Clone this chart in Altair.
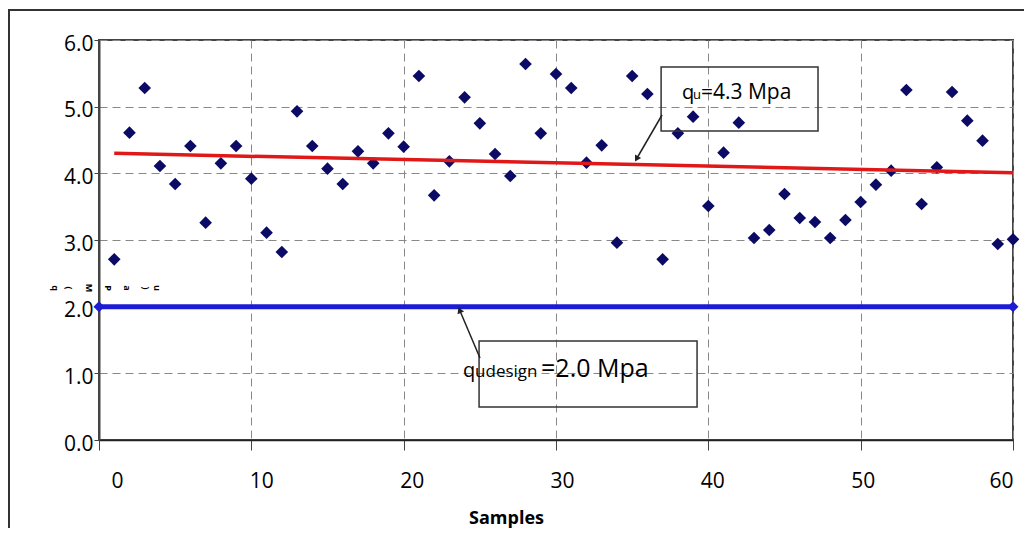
import altair as alt
import pandas as pd

# ---- data ----
samples = list(range(1, 61))
qu_values = [2.71, 4.61, 5.28, 4.11, 3.84, 4.41, 3.26, 4.15, 4.41, 3.92,
             3.11, 2.82, 4.93, 4.41, 4.07, 3.84, 4.33, 4.15, 4.60, 4.40,
             5.46, 3.67, 4.18, 5.14, 4.75, 4.29, 3.96, 5.64, 4.60, 5.49,
             5.28, 4.16, 4.42, 2.96, 5.46, 5.19, 2.71, 4.60, 4.85, 3.51,
             4.31, 4.76, 3.03, 3.15, 3.69, 3.33, 3.27, 3.03, 3.30, 3.57,
             3.83, 4.04, 5.25, 3.54, 4.09, 5.22, 4.79, 4.49, 2.94, 3.01]
trend_x = [1, 60]
trend_y = [4.30, 4.01]
design_x = [0, 60]
design_y = [2.0, 2.0]
x_ticks = [0, 10, 20, 30, 40, 50, 60]
y_ticks = [0, 1, 2, 3, 4, 5, 6]
x_title = "Samples"
y_title_chars = ["q", "(", "M", "P", "a", ")", "u"]

FONT = "Open Sans"
W, H = 914, 400

xs = alt.Scale(domain=[0, 60], nice=False, zero=False)
ys = alt.Scale(domain=[0, 6], nice=False)

pts = pd.DataFrame({"x": samples, "y": qu_values})
trend = pd.DataFrame({"x": trend_x, "y": trend_y})
design = pd.DataFrame({"x": design_x, "y": design_y})

x_axis = alt.Axis(values=x_ticks, title=x_title, labelFont=FONT, labelFontSize=21,
                  labelColor="black", labelOffset=alt.ExprRef(expr="12 - datum.value / 5"),
                  labelPadding=20, tickSize=10,
                  tickColor="#444", domainColor="#222", domainWidth=1.5,
                  grid=True, gridDash=[8, 5], gridColor="#888", gridWidth=1,
                  titleFont=FONT, titleFontSize=18, titleFontWeight="bold",
                  titleColor="black", titleX=407, titleY=83,
                  titleAlign="center", titleBaseline="alphabetic")
y_axis = alt.Axis(values=y_ticks, format=".1f", title="", labelFont=FONT,
                  labelFontSize=21, labelColor="black", labelOffset=4,
                  labelPadding=1, tickSize=5, tickColor="#444",
                  domainColor="#444", domainWidth=2,
                  grid=True, gridDash=[8, 5], gridColor="#888", gridWidth=1)


def X(field="x:Q"):
    return alt.X(field, scale=xs, axis=x_axis)


def Y(field="y:Q"):
    return alt.Y(field, scale=ys, axis=y_axis)


one = pd.DataFrame({"a": [0]})

frame = alt.Chart(one).mark_rect(fillOpacity=0, stroke="#333", strokeWidth=2).encode(
    x=alt.value(-90), x2=alt.value(1100), y=alt.value(-30), y2=alt.value(700))

scatter = alt.Chart(pts).mark_point(shape="diamond", filled=True, size=160,
                                    color="#0b0b66", opacity=1).encode(x=X(), y=Y())

design_line = alt.Chart(design).mark_line(color="#1c1cd2", strokeWidth=5).encode(
    x=X(), y=Y())
design_pts = alt.Chart(design).mark_point(shape="diamond", filled=True, size=120,
                                          color="#1c1cd2", opacity=1).encode(x=X(), y=Y())

trend_line = alt.Chart(trend).mark_line(color="#e01818", strokeWidth=3.5).encode(
    x=X(), y=Y())

# annotation boxes (data coordinates)
boxes = pd.DataFrame({"x": [36.9, 24.95], "x2": [47.2, 39.26],
                      "y": [5.595, 1.485], "y2": [4.635, 0.495]})
box_marks = alt.Chart(boxes).mark_rect(fillOpacity=0, stroke="#333", strokeWidth=1.5).encode(
    x=X(), x2="x2:Q", y=Y(), y2="y2:Q")

arrows = pd.DataFrame({"x": [36.96, 25.01], "y": [4.875, 1.23],
                       "x2": [35.32, 23.7], "y2": [4.23, 1.935]})
arrow_lines = alt.Chart(arrows).mark_rule(color="#222", strokeWidth=1.5).encode(
    x=X(), x2="x2:Q", y=Y(), y2="y2:Q")
heads = pd.DataFrame({"x": [35.32, 23.7], "y": [4.23, 1.935], "ang": [210, 337]})
arrow_heads = alt.Chart(heads).mark_point(shape="triangle", filled=True, size=50,
                                          color="#222", opacity=1).encode(
    x=X(), y=Y(), angle=alt.Angle("ang:Q", scale=None))


def txt(s, xv, yv, size, dx=0):
    d = pd.DataFrame({"x": [xv], "y": [yv], "t": [s]})
    return alt.Chart(d).mark_text(align="left", baseline="alphabetic", font=FONT,
                                  fontSize=size, color="black", dx=dx).encode(
        x=X(), y=Y(), text="t:N")


label1 = [txt("q", 38.27, 5.115, 20), txt("u", 38.27, 5.115, 13, dx=11),
          txt("=4.3 Mpa", 38.27, 5.115, 21, dx=19)]
label2 = [txt("q", 23.9, 0.945, 20), txt("udesign", 23.9, 0.945, 17, dx=12),
          txt("=2.0 Mpa", 23.9, 0.945, 25, dx=78)]

ytitle = []
for ch, px in zip(y_title_chars, [-44, -30, -10, 9, 28, 47, 58]):
    ytitle.append(alt.Chart(one).mark_text(text=ch, angle=90, fontSize=9, font=FONT,
                                           fontWeight="bold", color="black").encode(
        x=alt.value(px), y=alt.value(248)))

chart = alt.layer(frame, scatter, design_line, design_pts, trend_line, box_marks,
                  arrow_lines, arrow_heads, *label1, *label2, *ytitle).properties(
    width=W, height=H,
    background="white",
    autosize=alt.AutoSizeParams(type="none"),
    padding={"left": 91, "top": 32, "right": 11, "bottom": 88},
).configure_view(stroke="#444", strokeWidth=2)

chart.save("out.html", embed_options={"renderer": "svg", "actions": False})
